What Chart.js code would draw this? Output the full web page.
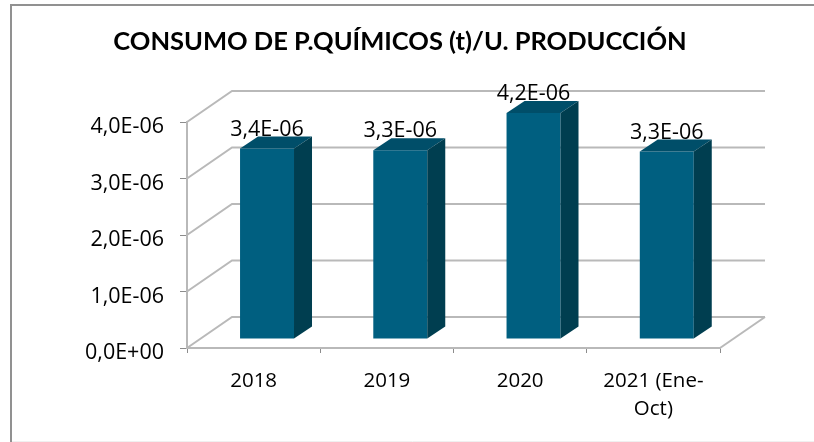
<!DOCTYPE html>
<html>
<head>
<meta charset="utf-8">
<script src="https://cdn.jsdelivr.net/npm/chart.js@4"></script>
<style>
  html, body { margin: 0; padding: 0; background: #fff; }
  #wrap { position: relative; width: 814px; height: 442px; }
</style>
</head>
<body>
<div id="wrap"><canvas id="chart" width="814" height="442"></canvas></div>
<script>
const chartTitle = 'CONSUMO DE P.QUÍMICOS (t)/U. PRODUCCIÓN';
const categories = ['2018', '2019', '2020', ['2021 (Ene-', 'Oct)']];
const consumo = [3.37e-6, 3.34e-6, 4.2e-6, 3.32e-6];
const yTicks = [0, 1e-6, 2e-6, 3e-6, 4e-6];

const gridColor = '#b9b9b9';
const faceColor = '#005f80';
const topColor = '#004e69';
const sideColor = '#003e50';
const labelFont = 'Open Sans';

// 0,0E+00 style, with a decimal comma
function sciLabel(v) {
    const parts = v.toExponential(1).split('e');
    const exp = parseInt(parts[1], 10);
    const sign = exp < 0 ? '-' : '+';
    return parts[0].replace('.', ',') + 'E' + sign + String(Math.abs(exp)).padStart(2, '0');
}

// fake 3D: back wall + floor behind, bar sides on top of the library's bars
const wall = { dx: 45, dy: -31 };
const barShift = { x: 13.4, y: -9 };
const barDepth = { dx: 18, dy: -12 };

const frame3d = {
    id: 'frame3d',
    beforeDraw(chart) {
        const ctx = chart.ctx;
        ctx.save();
        ctx.strokeStyle = '#f0f0f0';
        ctx.lineWidth = 1;
        ctx.beginPath();
        ctx.moveTo(11, 441.5);
        ctx.lineTo(814, 441.5);
        ctx.stroke();
        // chart frame is cut off at the right and bottom of the picture
        ctx.strokeStyle = '#919191';
        ctx.lineWidth = 2;
        ctx.beginPath();
        ctx.moveTo(11, 442);
        ctx.lineTo(11, 5);
        ctx.lineTo(814, 5);
        ctx.stroke();
        ctx.restore();
    },
    beforeDatasetsDraw(chart) {
        const ctx = chart.ctx;
        const y = chart.scales.y;
        const a = chart.chartArea;
        ctx.save();
        ctx.strokeStyle = gridColor;
        ctx.lineWidth = 2;
        yTicks.forEach(t => {
            const py = y.getPixelForValue(t);
            ctx.beginPath();
            ctx.moveTo(a.left, py);
            ctx.lineTo(a.left + wall.dx, py + wall.dy);
            ctx.lineTo(a.right + wall.dx, py + wall.dy);
            ctx.stroke();
        });
        ctx.beginPath();
        ctx.moveTo(a.right, a.bottom);
        ctx.lineTo(a.right + wall.dx, a.bottom + wall.dy);
        ctx.stroke();
        ctx.restore();
        ctx.save();
        ctx.translate(barShift.x, barShift.y);
    },
    afterDatasetsDraw(chart) {
        const ctx = chart.ctx;
        const meta = chart.getDatasetMeta(0);
        const top = chart.chartArea.top;
        meta.data.forEach((bar, i) => {
            const h = bar.width / 2;
            const t = Math.max(bar.y, top);
            ctx.fillStyle = topColor;
            ctx.beginPath();
            ctx.moveTo(bar.x - h, t);
            ctx.lineTo(bar.x - h + barDepth.dx, t + barDepth.dy);
            ctx.lineTo(bar.x + h + barDepth.dx, t + barDepth.dy);
            ctx.lineTo(bar.x + h, t);
            ctx.closePath();
            ctx.fill();
            ctx.fillStyle = sideColor;
            ctx.beginPath();
            ctx.moveTo(bar.x + h, t);
            ctx.lineTo(bar.x + h + barDepth.dx, t + barDepth.dy);
            ctx.lineTo(bar.x + h + barDepth.dx, bar.base + barDepth.dy);
            ctx.lineTo(bar.x + h, bar.base);
            ctx.closePath();
            ctx.fill();
            ctx.fillStyle = '#000';
            ctx.font = '21.5px "' + labelFont + '"';
            ctx.textAlign = 'center';
            ctx.textBaseline = 'middle';
            ctx.fillText(sciLabel(consumo[i]), bar.x, t - 19);
        });
        ctx.restore();
    }
};

new Chart(document.getElementById('chart'), {
    type: 'bar',
    data: {
        labels: categories,
        datasets: [{
            data: consumo,
            backgroundColor: faceColor,
            barPercentage: 1,
            categoryPercentage: 0.405
        }]
    },
    options: {
        responsive: false,
        animation: false,
        layout: { padding: { top: 26, left: 80, right: 94, bottom: 0 } },
        plugins: {
            legend: { display: false },
            tooltip: { enabled: false },
            title: {
                display: true,
                text: chartTitle,
                color: '#000',
                font: { family: 'Lato', size: 25.5, weight: 'bold', lineHeight: 1.2 },
                padding: { top: 0, bottom: 65.4 }
            }
        },
        scales: {
            x: {
                afterFit(scale) { scale.height = 94; },
                grid: { drawOnChartArea: false, tickLength: 5, tickColor: '#8c8c8c' },
                border: { color: gridColor, width: 2 },
                ticks: { color: '#000', font: { family: labelFont, size: 20.5, lineHeight: 1.36 }, padding: 14, maxRotation: 0, autoSkip: false }
            },
            y: {
                min: 0,
                max: 4e-6,
                afterFit(scale) { scale.width = 107; },
                afterBuildTicks(scale) { scale.ticks = yTicks.map(v => ({ value: v })); },
                // tick labels sit a bit below their tick marks in the original
                // (update runs more than once per layout, so only wrap once)
                afterUpdate(scale) {
                    if (scale.labelsShifted) return;
                    scale.labelsShifted = true;
                    const drawLabels = scale.drawLabels;
                    scale.drawLabels = function (area) {
                        this.ctx.save();
                        this.ctx.translate(0, 5);
                        drawLabels.call(this, area);
                        this.ctx.restore();
                    };
                },
                grid: { drawOnChartArea: false, tickLength: 7, tickColor: '#8c8c8c' },
                border: { color: gridColor, width: 2 },
                ticks: { color: '#000', font: { family: labelFont, size: 21.5 }, padding: 16, callback: v => sciLabel(v) }
            }
        }
    },
    plugins: [frame3d]
});
</script>
</body>
</html>
